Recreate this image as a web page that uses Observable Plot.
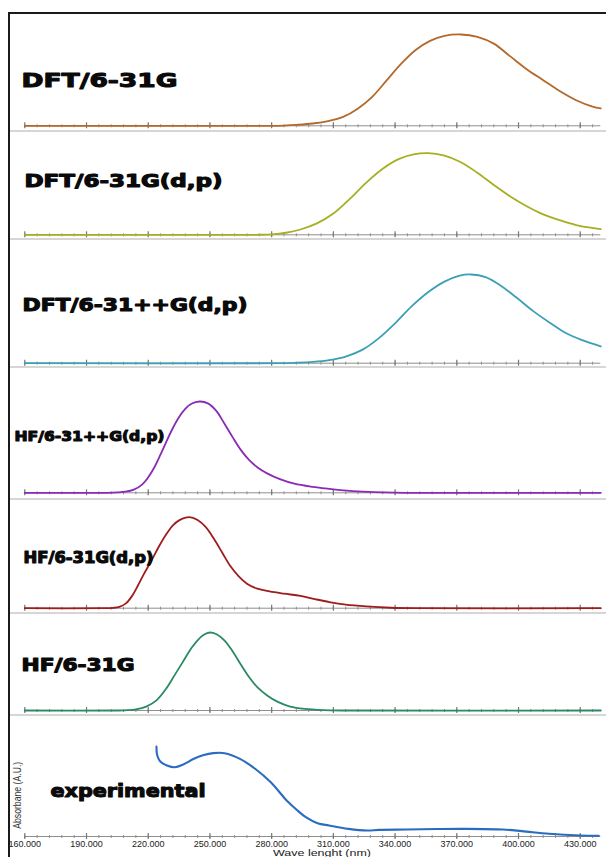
<!DOCTYPE html>
<html><head><meta charset="utf-8">
<script src="https://cdn.jsdelivr.net/npm/d3@7"></script>
<script src="https://cdn.jsdelivr.net/npm/@observablehq/plot@0.6"></script>
<style>
html,body{margin:0;padding:0;background:#fff;}
#wrap{position:absolute;left:9px;top:0;width:597px;height:857px;overflow:hidden;}
.panel{position:absolute;left:0;width:597px;}
.panel svg{overflow:hidden;display:block;}
.sep{position:absolute;left:9px;width:597px;height:2px;background:#d6d6d6;z-index:2;}
#bl{position:absolute;left:8px;top:12px;width:1.5px;height:845px;background:#1a1a1a;z-index:3;}
#bt{position:absolute;left:8px;top:12px;width:598px;height:1.5px;background:#1a1a1a;z-index:3;}
</style></head>
<body>
<div id="wrap"></div><div id="bl"></div><div id="bt"></div>
<script>
// ---------- data ----------
const panelLabels = ["DFT/6-31G", "DFT/6-31G(d,p)", "DFT/6-31++G(d,p)", "HF/6-31++G(d,p)", "HF/6-31G(d,p)", "HF/6-31G", "experimental"];
const majorTicks = [160, 190, 220, 250, 280, 310, 340, 370, 400, 430];
const minorTicks = [160,166,172,178,184,190,196,202,208,214,220,226,232,238,244,250,256,262,268,274,280,286,292,298,304,310,316,322,328,334,340,346,352,358,364,370,376,382,388,394,400,406,412,418,424,430,436];
const tickLabels = ["160.000", "190.000", "220.000", "250.000", "280.000", "310.000", "340.000", "370.000", "400.000", "430.000"];
const xTitle = "Wave lenght (nm)";
const yTitle = "Absorbane (A.U.)";

// [wavelength nm, normalised absorbance]
const dft631G = [[160,0],[280,0],[286,0.003],[292,0.01],[300,0.025],[308,0.055],[315,0.1],[322,0.19],[329,0.32],[336,0.5],[343,0.68],[350,0.83],[357,0.93],[364,0.985],[372,1.0],[380,0.975],[388,0.9],[396,0.76],[404,0.62],[412,0.5],[420,0.38],[428,0.28],[436,0.21],[440,0.19]];
const dft631Gdp = [[160,0],[272,0],[280,0.005],[287,0.025],[294,0.065],[302,0.14],[310,0.26],[318,0.44],[326,0.64],[334,0.81],[342,0.93],[349,0.985],[356,1.0],[364,0.97],[372,0.89],[380,0.76],[388,0.61],[396,0.47],[404,0.35],[412,0.25],[420,0.18],[428,0.12],[434,0.09],[440,0.07]];
const dft631ppGdp = [[160,0],[285,0],[292,0.005],[300,0.015],[308,0.035],[316,0.075],[324,0.15],[332,0.28],[340,0.45],[348,0.64],[356,0.8],[364,0.92],[371,0.985],[377,1.0],[384,0.97],[391,0.88],[399,0.74],[407,0.59],[415,0.46],[423,0.34],[431,0.26],[440,0.19]];
const hf631ppGdp = [[160,0],[200,0],[205,0.004],[209,0.012],[213,0.035],[217,0.09],[220,0.17],[223,0.28],[226,0.42],[229,0.57],[232,0.71],[235,0.83],[238,0.92],[241,0.975],[245,1.0],[249,0.98],[253,0.9],[257,0.76],[261,0.61],[265,0.47],[269,0.36],[273,0.28],[278,0.21],[284,0.15],[291,0.1],[300,0.065],[310,0.038],[322,0.015],[335,0.004],[345,0],[440,0]];
const hf631Gdp = [[160,0],[198,0],[203,0.004],[206,0.015],[209,0.05],[212,0.13],[215,0.25],[218,0.38],[221.5,0.52],[225,0.67],[229,0.82],[232,0.91],[235,0.965],[240,1.0],[244,0.97],[248,0.89],[252,0.76],[256,0.61],[260,0.46],[264,0.35],[268,0.27],[273,0.215],[279,0.185],[286,0.16],[294,0.135],[301,0.1],[308,0.068],[316,0.04],[326,0.02],[338,0.005],[350,0],[440,0]];
const hf631G = [[160,0],[205,0],[210,0.004],[214,0.015],[219,0.05],[224,0.13],[229,0.29],[233,0.46],[237,0.63],[241,0.8],[244,0.9],[247,0.97],[250,1.0],[253,0.98],[257,0.9],[261,0.76],[265,0.59],[269,0.43],[273,0.3],[278,0.19],[283,0.11],[289,0.05],[296,0.02],[305,0.005],[315,0],[440,0]];
const experimental = [[224,1.0],[224.4,0.9],[226,0.83],[229.1,0.79],[232.9,0.77],[237,0.8],[242.2,0.863],[247,0.905],[251.6,0.926],[257.1,0.926],[264.6,0.863],[272.1,0.75],[279.7,0.6],[287.3,0.4],[292,0.3],[296.6,0.215],[302.3,0.148],[307.9,0.122],[317.3,0.085],[326.6,0.067],[332.1,0.074],[345.4,0.078],[360,0.083],[373.6,0.085],[392.3,0.078],[401.7,0.06],[414.9,0.03],[430,0.011],[439,0.008]];

const seriesList = [dft631G, dft631Gdp, dft631ppGdp, hf631ppGdp, hf631Gdp, hf631G, experimental];

// ---------- layout / style ----------
const colors = ["#b3692b", "#a6ae22", "#3aa0b4", "#8a2ab5", "#9e1c1c", "#2a8a62", "#2a6cc0"];
const geo = [
  {top: 14,  h: 117, mt: 20,   mb: 5.7, lx: 21, ly: 80,    fs: 20,   lw: 156},
  {top: 131, h: 108, mt: 21.7, mb: 4.7, lx: 24, ly: 181,   fs: 17,   lw: 198},
  {top: 239, h: 128, mt: 35,   mb: 4.3, lx: 22, ly: 305,   fs: 17,   lw: 225},
  {top: 367, h: 132, mt: 34,   mb: 6.7, lx: 14, ly: 436.5, fs: 14,   lw: 150},
  {top: 499, h: 114, mt: 17.7, mb: 5.3, lx: 23, ly: 558,   fs: 15,   lw: 130},
  {top: 613, h: 102, mt: 19,   mb: 5,   lx: 21, ly: 665.5, fs: 17,   lw: 113},
  {top: 715, h: 142, mt: 31,   mb: 21,  lx: 50, ly: 791,   fs: 18,   lw: 155}
];
const W = 597, ML = 15.3, MR = 5.7, WRAPX = 9;
const wrap = document.getElementById("wrap");

function stretch(svg, str, len) {
  d3.select(svg).selectAll("text").filter(function () { return this.textContent === str; })
    .attr("textLength", len).attr("lengthAdjust", "spacingAndGlyphs");
}

geo.forEach((g, i) => {
  const data = seriesList[i].map(([nm, v]) => ({nm, v}));
  const last = i === geo.length - 1;
  const marks = [
    Plot.ruleY([0], {stroke: "#8f8f8f", strokeWidth: 1}),
    Plot.ruleX(minorTicks, {x: d => d, y1: 0, y2: 0, insetTop: -1, insetBottom: -2, stroke: "#8f8f8f", strokeWidth: 1}),
    Plot.ruleX(majorTicks, {x: d => d, y1: 0, y2: 0, insetTop: -3, insetBottom: -3, stroke: "#777", strokeWidth: 1.2}),
    Plot.line(data, {x: "nm", y: "v", stroke: colors[i], strokeWidth: last ? 2.1 : 1.8, curve: "catmull-rom"}),
    Plot.text([panelLabels[i]], {text: d => d, frameAnchor: "top-left", textAnchor: "start", lineAnchor: "middle",
      dx: g.lx - WRAPX - ML, dy: g.ly - g.top - g.mt, fontSize: g.fs, fontWeight: "bold",
      fontFamily: "DejaVu Sans", fill: "#0a0a0a", stroke: "#0a0a0a", strokeWidth: 1.1})
  ];
  if (last) {
    marks.push(
      Plot.text(majorTicks, {x: d => d, y: 0, text: (d, j) => tickLabels[j], dy: 8, lineAnchor: "middle",
        fontSize: 9, fontFamily: "Liberation Sans", fill: "#222"}),
      Plot.text([xTitle], {text: d => d, frameAnchor: "bottom-left", textAnchor: "start", dx: 272.5 - WRAPX - ML, dy: 16.2, lineAnchor: "middle",
        fontSize: 9.8, fontFamily: "Liberation Sans", fill: "#222"}),
      Plot.text([yTitle], {text: d => d, frameAnchor: "left", rotate: -90, textAnchor: "start", dx: -6.9, dy: 37.3, lineAnchor: "middle",
        fontSize: 11, fontFamily: "Liberation Sans", fill: "#333"})
    );
  }
  const chart = Plot.plot({
    width: W, height: g.h,
    marginLeft: ML, marginRight: MR, marginTop: g.mt, marginBottom: g.mb,
    x: {domain: [160, 440], axis: null},
    y: {domain: [0, 1], axis: null},
    style: {background: "transparent", overflow: "hidden"},
    marks
  });
  const div = document.createElement("div");
  div.className = "panel";
  div.style.top = g.top + "px";
  div.style.height = g.h + "px";
  div.appendChild(chart);
  wrap.appendChild(div);
  stretch(chart, panelLabels[i], g.lw);
  if (last) {
    stretch(chart, xTitle, 98);
    stretch(chart, yTitle, 67);
  }
  if (!last) {
    const s = document.createElement("div");
    s.className = "sep";
    s.style.top = (g.top + g.h - 1) + "px";
    document.body.appendChild(s);
  }
});
</script>
</body></html>
